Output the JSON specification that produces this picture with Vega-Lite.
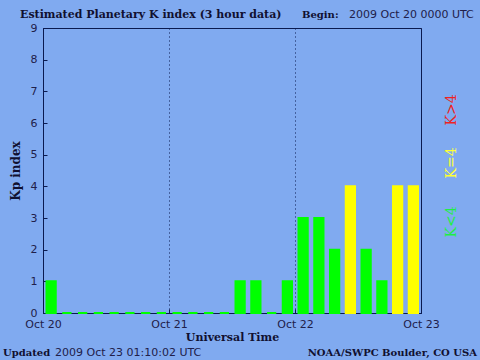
{
  "$schema": "https://vega.github.io/schema/vega-lite/v6.json",
  "autosize": "none",
  "width": 378,
  "height": 285,
  "padding": {"left": 43, "top": 28, "right": 59, "bottom": 47},
  "background": "#80aaf0",
  "config": {
    "view": {"stroke": "#0a1a50", "strokeWidth": 1, "fill": "#80aaf0"},
    "axis": {"labelFont": "DejaVu Sans", "labelFontSize": 11, "labelColor": "#20204a", "titleFont": "DejaVu Serif", "titleFontWeight": "bold", "titleFontSize": 11, "titleColor": "#101030", "domainColor": "#0a1a50", "tickColor": "#0a1a50", "labelOverlap": false}
  },
  "data": {"values": [
    {"start": "2009-10-20T00:00:00Z", "end": "2009-10-20T03:00:00Z", "kp": 1},
    {"start": "2009-10-20T03:00:00Z", "end": "2009-10-20T06:00:00Z", "kp": 0},
    {"start": "2009-10-20T06:00:00Z", "end": "2009-10-20T09:00:00Z", "kp": 0},
    {"start": "2009-10-20T09:00:00Z", "end": "2009-10-20T12:00:00Z", "kp": 0},
    {"start": "2009-10-20T12:00:00Z", "end": "2009-10-20T15:00:00Z", "kp": 0},
    {"start": "2009-10-20T15:00:00Z", "end": "2009-10-20T18:00:00Z", "kp": 0},
    {"start": "2009-10-20T18:00:00Z", "end": "2009-10-20T21:00:00Z", "kp": 0},
    {"start": "2009-10-20T21:00:00Z", "end": "2009-10-21T00:00:00Z", "kp": 0},
    {"start": "2009-10-21T00:00:00Z", "end": "2009-10-21T03:00:00Z", "kp": 0},
    {"start": "2009-10-21T03:00:00Z", "end": "2009-10-21T06:00:00Z", "kp": 0},
    {"start": "2009-10-21T06:00:00Z", "end": "2009-10-21T09:00:00Z", "kp": 0},
    {"start": "2009-10-21T09:00:00Z", "end": "2009-10-21T12:00:00Z", "kp": 0},
    {"start": "2009-10-21T12:00:00Z", "end": "2009-10-21T15:00:00Z", "kp": 1},
    {"start": "2009-10-21T15:00:00Z", "end": "2009-10-21T18:00:00Z", "kp": 1},
    {"start": "2009-10-21T18:00:00Z", "end": "2009-10-21T21:00:00Z", "kp": 0},
    {"start": "2009-10-21T21:00:00Z", "end": "2009-10-22T00:00:00Z", "kp": 1},
    {"start": "2009-10-22T00:00:00Z", "end": "2009-10-22T03:00:00Z", "kp": 3},
    {"start": "2009-10-22T03:00:00Z", "end": "2009-10-22T06:00:00Z", "kp": 3},
    {"start": "2009-10-22T06:00:00Z", "end": "2009-10-22T09:00:00Z", "kp": 2},
    {"start": "2009-10-22T09:00:00Z", "end": "2009-10-22T12:00:00Z", "kp": 4},
    {"start": "2009-10-22T12:00:00Z", "end": "2009-10-22T15:00:00Z", "kp": 2},
    {"start": "2009-10-22T15:00:00Z", "end": "2009-10-22T18:00:00Z", "kp": 1},
    {"start": "2009-10-22T18:00:00Z", "end": "2009-10-22T21:00:00Z", "kp": 4},
    {"start": "2009-10-22T21:00:00Z", "end": "2009-10-23T00:00:00Z", "kp": 4}
  ]},
  "layer": [
    {
      "mark": {"type": "bar", "orient": "vertical", "xOffset": 3.5, "x2Offset": -3, "strokeWidth": 2},
      "encoding": {
        "x": {"field": "start", "type": "temporal",
          "scale": {"type": "utc", "domain": ["2009-10-20T00:00:00Z", "2009-10-23T00:00:00Z"], "padding": 0},
          "axis": {"values": ["2009-10-20T00:00:00Z", "2009-10-21T00:00:00Z", "2009-10-22T00:00:00Z", "2009-10-23T00:00:00Z"],
            "labelExpr": "utcFormat(datum.value, '%b %d')", "labelAngle": 0, "labelFlush": false, "tickSize": -4, "labelPadding": 9,
            "grid": true, "gridDash": [1, 3], "gridColor": "#0a1a50", "gridOpacity": 1,
            "title": "Universal Time", "titleFontSize": 11, "titlePadding": 2}},
        "x2": {"field": "end"},
        "y": {"field": "kp", "type": "quantitative",
          "scale": {"domain": [0, 9], "nice": false},
          "axis": {"orient": "left", "values": [0,1,2,3,4,5,6,7,8,9], "labels": true, "tickSize": -4, "labelPadding": 10, "grid": false,
            "title": "Kp index", "titleFontSize": 12, "titlePadding": 8}},
        "color": {"field": "kp", "type": "quantitative",
          "scale": {"type": "threshold", "domain": [4, 4.5], "range": ["#00ff00", "#ffff00", "#ff0000"]},
          "legend": null},
        "stroke": {"field": "kp", "type": "quantitative",
          "scale": {"type": "threshold", "domain": [4, 4.5], "range": ["#00ff00", "#ffff00", "#ff0000"]},
          "legend": null}
      }
    },
    {
      "data": {"values": [{}]},
      "mark": {"type": "text", "text": "Estimated Planetary K index (3 hour data)", "font": "DejaVu Serif", "fontWeight": "bold", "fontSize": 11, "align": "left", "baseline": "alphabetic", "color": "#101030"},
      "encoding": {"x": {"value": -23}, "y": {"value": -10}}
    },
    {
      "data": {"values": [{}]},
      "mark": {"type": "text", "text": "Begin:", "font": "DejaVu Serif", "fontWeight": "bold", "fontSize": 10, "align": "left", "baseline": "alphabetic", "color": "#101030"},
      "encoding": {"x": {"value": 259}, "y": {"value": -10}}
    },
    {
      "data": {"values": [{}]},
      "mark": {"type": "text", "text": "2009 Oct 20 0000 UTC", "font": "DejaVu Sans", "fontSize": 11, "align": "left", "baseline": "alphabetic", "color": "#20204a"},
      "encoding": {"x": {"value": 306}, "y": {"value": -10}}
    },
    {
      "data": {"values": [{}]},
      "mark": {"type": "text", "text": "Updated", "font": "DejaVu Serif", "fontWeight": "bold", "fontSize": 10, "align": "left", "baseline": "alphabetic", "color": "#101030"},
      "encoding": {"x": {"value": -40}, "y": {"value": 328}}
    },
    {
      "data": {"values": [{}]},
      "mark": {"type": "text", "text": "2009 Oct 23 01:10:02 UTC", "font": "DejaVu Sans", "fontSize": 11, "align": "left", "baseline": "alphabetic", "color": "#20204a"},
      "encoding": {"x": {"value": 12}, "y": {"value": 328}}
    },
    {
      "data": {"values": [{}]},
      "mark": {"type": "text", "text": "NOAA/SWPC Boulder, CO USA", "font": "DejaVu Serif", "fontWeight": "bold", "fontSize": 10, "align": "right", "baseline": "alphabetic", "color": "#101030"},
      "encoding": {"x": {"value": 434}, "y": {"value": 328}}
    },
    {
      "data": {"values": [{}]},
      "mark": {"type": "text", "text": "K>4", "font": "DejaVu Serif", "fontSize": 14, "angle": 270, "align": "center", "baseline": "middle", "color": "#ee2222"},
      "encoding": {"x": {"value": 409}, "y": {"value": 82}}
    },
    {
      "data": {"values": [{}]},
      "mark": {"type": "text", "text": "K=4", "font": "DejaVu Serif", "fontSize": 14, "angle": 270, "align": "center", "baseline": "middle", "color": "#ffff33"},
      "encoding": {"x": {"value": 409}, "y": {"value": 135}}
    },
    {
      "data": {"values": [{}]},
      "mark": {"type": "text", "text": "K<4", "font": "DejaVu Serif", "fontSize": 14, "angle": 270, "align": "center", "baseline": "middle", "color": "#22ee44"},
      "encoding": {"x": {"value": 409}, "y": {"value": 194}}
    }
  ]
}
